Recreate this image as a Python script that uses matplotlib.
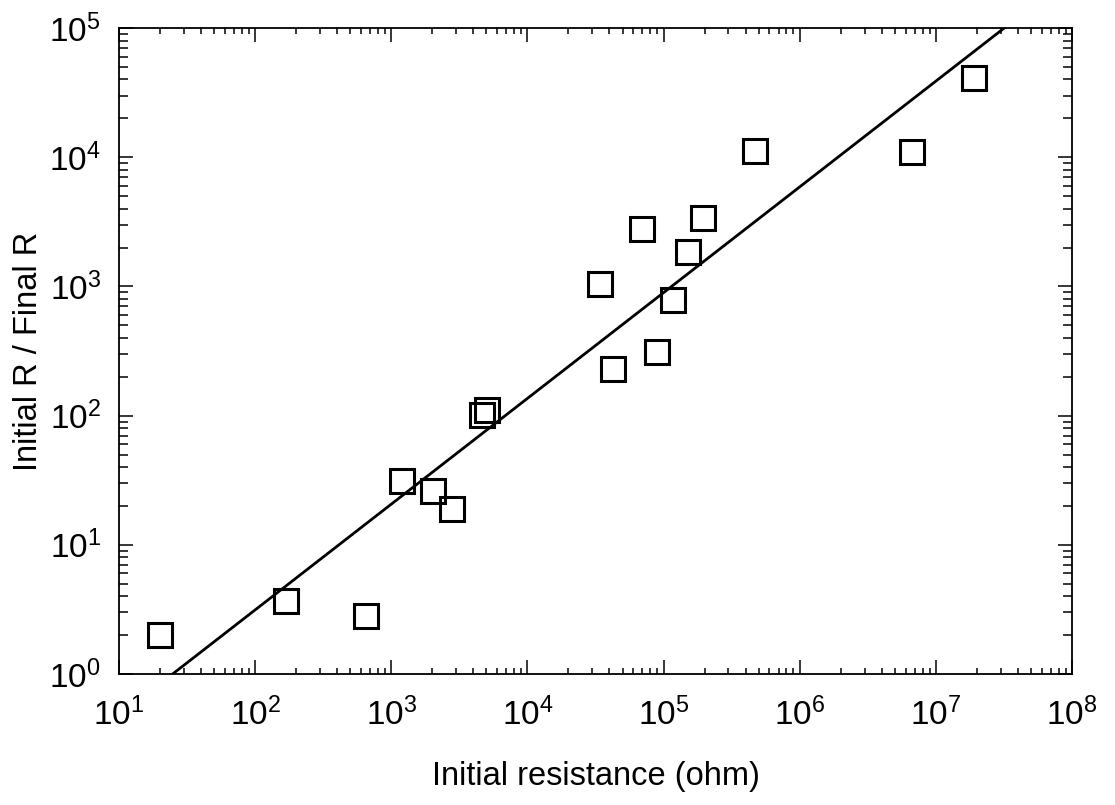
import numpy as np
import matplotlib
matplotlib.use("Agg")
import matplotlib.pyplot as plt

plt.rcParams['font.family'] = ['Liberation Sans', 'DejaVu Sans']
plt.rcParams['mathtext.fontset'] = 'custom'
plt.rcParams['mathtext.rm'] = 'Liberation Sans'
plt.rcParams['mathtext.it'] = 'Liberation Sans:italic'

# data
initial_r = [20, 170, 650, 1200, 2040, 2800, 4650, 5030,
             33900, 42300, 69600, 89800, 117000, 150000, 196000,
             471000, 6.63e6, 1.9e7]
ratio = [2.0, 3.7, 2.8, 31, 26, 19, 101, 111,
         1047, 228, 2780, 309, 785, 1846, 3400,
         11100, 11000, 41000]

# power-law fit  y = a * x^b
fit_a = 0.0723
fit_b = 0.8185

x_decades = [1, 2, 3, 4, 5, 6, 7, 8]
y_decades = [0, 1, 2, 3, 4, 5]

fig = plt.figure(figsize=(11.15, 8.05), dpi=100)
ax = fig.add_axes([0.1067, 0.1627, 0.8547, 0.8025])

xf = np.logspace(1, 8, 200)
ax.plot(xf, fit_a * xf**fit_b, color='black', linewidth=2.0)
ax.plot(initial_r, ratio, linestyle='none', marker='s', markersize=17.5,
        markerfacecolor='none', markeredgecolor='black', markeredgewidth=2.2)

ax.set_xscale('log')
ax.set_yscale('log')
ax.set_xticks([10.0**k for k in x_decades])
ax.set_yticks([10.0**k for k in y_decades])
ax.set_xlim(10, 1e8)
ax.set_ylim(1, 1e5)

for s in ax.spines.values():
    s.set_linewidth(1.3)

ax.tick_params(which='both', direction='in', top=True, right=True, width=1.1)
ax.tick_params(which='major', length=10, labelsize=24)
ax.tick_params(axis='x', which='minor', length=4.5)
ax.tick_params(axis='y', which='minor', length=6.5)
ax.tick_params(axis='x', which='major', pad=17)
ax.tick_params(axis='y', which='major', pad=13)

ax.set_xlabel('Initial resistance (ohm)', fontsize=23.5, va='center')
ax.set_ylabel('Initial R / Final R', fontsize=23.5, va='center')
ax.xaxis.set_label_coords(0.5, -0.158)
ax.yaxis.set_label_coords(-0.095, 0.5)

fig.savefig('out.png', dpi=100)
